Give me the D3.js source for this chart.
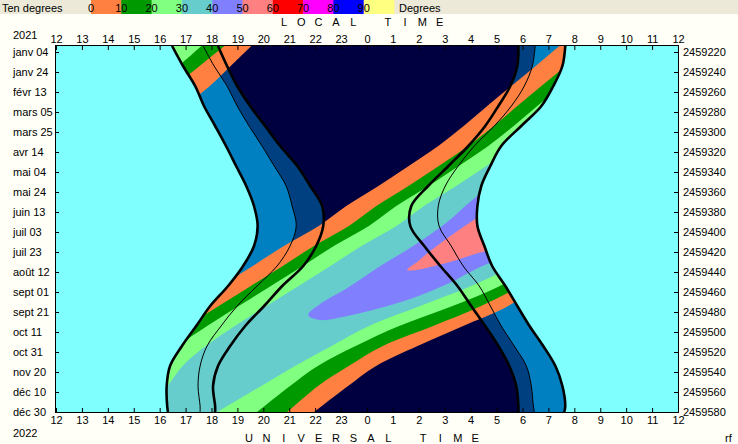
<!DOCTYPE html>
<html><head><meta charset="utf-8">
<script src="https://cdn.jsdelivr.net/npm/d3@7"></script>
<style>
body{margin:0;background:#FFFFF7;}
svg{display:block;}
text{font-family:"Liberation Sans",Arial,sans-serif;font-size:11px;fill:#000;}
</style>
</head><body>
<svg id="c" width="738" height="444"></svg>
<script>
// ---------- DATA ----------
// sample dates (Julian Day) for every curve below
const gridJD = [2459214,2459234,2459254,2459274,2459294,2459314,2459334,2459354,2459374,2459394,2459414,2459434,2459454,2459474,2459494,2459514,2459534,2459554,2459574,2459580];
// sun curves, hours (UT, 12..36 = noon to next noon)
const sunsetOuter   = [16.48,16.90,17.37,17.71,18.14,18.56,18.95,19.34,19.64,19.78,19.64,19.22,18.64,17.95,17.41,16.86,16.40,16.27,16.29,16.32];
const twilightLeft  = [17.68,18.10,18.60,18.99,19.45,19.95,20.42,20.88,21.11,21.27,21.03,20.53,19.76,18.99,18.37,17.83,17.56,17.48,17.56,17.56];
const darkLeft      = [18.25,18.60,18.99,19.49,20.07,20.65,21.31,21.81,22.27,22.31,22.04,21.54,20.73,20.03,19.30,18.72,18.25,18.06,18.14,18.14];
const darkRight     = [29.84,29.80,29.53,29.07,28.56,27.91,27.14,26.36,25.71,25.67,26.21,26.83,27.49,28.02,28.56,29.07,29.49,29.76,29.84,29.84];
const twilightRight = [30.49,30.38,30.07,29.57,28.91,28.14,27.52,27.02,26.75,26.78,27.25,27.71,28.33,28.76,29.18,29.68,30.15,30.34,30.42,30.46];
const sunriseOuter  = [31.65,31.54,31.19,30.73,29.95,29.18,28.76,28.41,28.26,28.26,28.53,28.83,29.34,29.80,30.27,30.80,31.27,31.54,31.65,31.61];
// object: time it climbs above / falls below 0,10,20,30 degrees (hours)
const rise0  = [31.42,30.51,29.57,28.64,27.73,26.75,25.61,24.44,23.20,22.14,20.79,19.59,18.36,17.12,15.90,14.78,13.88,13.11,12.37,12.15];
const rise10 = [32.58,31.67,30.73,29.80,28.89,27.91,26.77,25.60,24.36,23.30,21.95,20.75,19.52,18.28,17.06,15.94,15.04,14.27,13.53,13.31];
const rise20 = [33.35,32.44,31.50,30.57,29.66,28.68,27.54,26.37,25.13,24.07,22.72,21.52,20.29,19.05,17.83,16.71,15.81,15.04,14.30,14.08];
const rise30 = [34.42,33.51,32.57,31.64,30.73,29.75,28.61,27.44,26.20,25.14,23.79,22.59,21.36,20.12,18.90,17.78,16.88,16.30,15.55,15.30];
const set0   = [43.54,42.74,41.94,40.94,39.79,38.64,37.48,36.32,35.16,33.97,32.78,31.61,30.55,29.45,27.71,25.95,24.35,23.27,22.26,21.96];
const set10  = [42.50,41.54,40.58,39.59,38.62,37.64,36.64,35.64,34.61,33.53,32.45,31.20,29.92,28.40,26.55,24.61,23.29,22.11,21.19,20.92];
const set20  = [41.61,40.73,39.77,38.80,37.83,36.86,35.87,34.86,33.84,32.76,31.68,30.44,29.13,27.30,25.24,23.56,22.10,21.03,20.05,19.76];
const set30  = [40.03,39.14,38.26,37.41,36.63,35.86,34.97,34.04,33.07,31.98,30.90,29.63,28.02,26.05,24.08,22.63,21.22,19.92,18.61,18.22];
// outlines [JD, hour] of the 40-50 and 50-60 degree areas
const above40 = [[2459483,21.73],[2459472,22.19],[2459456,23.24],[2459434,24.51],[2459414,25.78],[2459390,27.10],[2459364,28.25],[2459344,29.53],[2459328,31.46],[2459358,32.62],[2459403,31.85],[2459420,30.30],[2459432,28.64],[2459452,27.10],[2459466,25.78],[2459476,24.51],[2459484,23.24],[2459488,22.19]];
const above50 = [[2459438,25.55],[2459429,25.98],[2459419,26.44],[2459402,27.33],[2459386,28.25],[2459374,29.14],[2459368,30.30],[2459383,31.07],[2459408,30.49],[2459416,29.34],[2459420,28.45],[2459429,27.33],[2459435,26.44],[2459438,25.90]];
// axes
const hourTicks = [12,13,14,15,16,17,18,19,20,21,22,23,24,25,26,27,28,29,30,31,32,33,34,35,36];
const jdTicks = [2459220,2459240,2459260,2459280,2459300,2459320,2459340,2459360,2459380,2459400,2459420,2459440,2459460,2459480,2459500,2459520,2459540,2459560,2459580];
const dateLabels = ["janv 04","janv 24","févr 13","mars 05","mars 25","avr 14","mai 04","mai 24","juin 13","juil 03","juil 23","août 12","sept 01","sept 21","oct 11","oct 31","nov 20","déc 10","déc 30"];
// legend
const legendValues = [0,10,20,30,40,50,60,70,80,90];
const legendColors = ["#FF8040","#009900","#80FF80","#66CCCC","#8080FF","#FF8080","#FF0000","#FF00FF","#0000FF","#FFFF80"];

// ---------- DRAW ----------
const svg = d3.select("#c");
svg.append("rect").attr("width",738).attr("height",444).attr("fill","#FFFFF7");

// legend strip
svg.append("rect").attr("width",738).attr("height",14).attr("fill","#ECE9D8");
const lg = d3.scaleLinear().domain([0,100]).range([91,394]);
svg.selectAll("rect.sw").data(legendValues).join("rect").attr("class","sw")
  .attr("x",d=>lg(d)).attr("y",0).attr("width",lg(10)-lg(0)+0.5).attr("height",14)
  .attr("fill",(d,i)=>legendColors[i]);
svg.selectAll("text.lv").data(legendValues).join("text").attr("class","lv")
  .attr("x",d=>lg(d)).attr("y",12).attr("text-anchor","middle").text(d=>d);
svg.append("text").attr("x",2).attr("y",12).text("Ten degrees");
svg.append("text").attr("x",399).attr("y",12).text("Degrees");

const x = d3.scaleLinear().domain([12,36]).range([56,678]);
const y = d3.scaleLinear().domain([2459214,2459580]).range([46,412]);
const idx = d3.range(gridJD.length);

const defs = svg.append("defs");
defs.append("clipPath").attr("id","plotClip").append("rect").attr("x",56).attr("y",46).attr("width",622).attr("height",366);

const areaBetween = (a,b,off=0) => d3.area().curve(d3.curveCatmullRom)
  .y(i=>y(gridJD[i])).x0(i=>x(a[i]+off)).x1(i=>x(b[i]+off))(idx);
const curveOf = (a) => d3.line().curve(d3.curveCatmullRom)
  .y(i=>y(gridJD[i])).x(i=>x(a[i]))(idx);

defs.append("clipPath").attr("id","nightClip").append("path").attr("d",areaBetween(sunsetOuter,sunriseOuter));

const plot = svg.append("g").attr("clip-path","url(#plotClip)");
plot.append("rect").attr("x",56).attr("y",46).attr("width",622).attr("height",366).attr("fill","#80FFFF");
plot.append("path").attr("d",areaBetween(sunsetOuter,sunriseOuter)).attr("fill","#0080C0");
plot.append("path").attr("d",areaBetween(twilightLeft,twilightRight)).attr("fill","#004080");
plot.append("path").attr("d",areaBetween(darkLeft,darkRight)).attr("fill","#000040");

const obj = plot.append("g").attr("clip-path","url(#nightClip)");
const bands = [
  {lo:rise0, hi:set0, c:legendColors[0]},
  {lo:rise10,hi:set10,c:legendColors[1]},
  {lo:rise20,hi:set20,c:legendColors[2]},
  {lo:rise30,hi:set30,c:legendColors[3]}
];
bands.forEach(b=>{
  [-24,0].forEach(off=>{
    obj.append("path").attr("d",areaBetween(b.lo,b.hi,off)).attr("fill",b.c);
  });
});
const closed = d3.line().curve(d3.curveCatmullRomClosed).x(d=>x(d[1])).y(d=>y(d[0]));
obj.append("path").attr("d",closed(above40)).attr("fill",legendColors[4]);
obj.append("path").attr("d",closed(above50)).attr("fill",legendColors[5]);

// twilight boundary lines
[[sunsetOuter,2.6],[twilightLeft,1],[darkLeft,2.6],[darkRight,2.6],[twilightRight,1],[sunriseOuter,2.6]].forEach(([a,w])=>{
  plot.append("path").attr("d",curveOf(a)).attr("fill","none").attr("stroke","#000").attr("stroke-width",w);
});

// frame
svg.append("rect").attr("x",55.5).attr("y",45.5).attr("width",623).attr("height",367)
  .attr("fill","none").attr("stroke","#000");

// axes
const styleAxis = g => { g.select(".domain").remove(); g.attr("font-size",11).attr("font-family","Liberation Sans, Arial, sans-serif"); g.selectAll("line").attr("stroke","#000"); };
svg.append("g").attr("transform","translate(0,46)")
  .call(d3.axisTop(x).tickValues(hourTicks).tickFormat(h=>h%24).tickSize(-4).tickPadding(3)).call(styleAxis);
svg.append("g").attr("transform","translate(0,412)")
  .call(d3.axisBottom(x).tickValues(hourTicks).tickFormat(h=>h%24).tickSize(-4).tickPadding(4)).call(styleAxis);
svg.append("g").attr("transform","translate(55,0)")
  .call(d3.axisLeft(y).tickValues(jdTicks).tickFormat((d,i)=>dateLabels[i]).tickSize(-4)).call(styleAxis)
  .call(g=>g.selectAll("text").attr("x",13-55).attr("text-anchor","start"));
svg.append("g").attr("transform","translate(678,0)")
  .call(d3.axisRight(y).tickValues(jdTicks).tickFormat(d3.format("d")).tickSize(-4).tickPadding(5)).call(styleAxis);

// titles
svg.selectAll("text.lt").data("LOCAL TIME".split("")).join("text").attr("class","lt")
  .attr("x",(d,i)=>284+i*17.3).attr("y",25.5).attr("text-anchor","middle").text(d=>d);
svg.selectAll("text.ut").data("UNIVERSAL TIME".split("")).join("text").attr("class","ut")
  .attr("x",(d,i)=>249+i*17.4).attr("y",441.5).attr("text-anchor","middle").text(d=>d);
svg.append("text").attr("x",13).attr("y",38.5).text("2021");
svg.append("text").attr("x",13).attr("y",437).text("2022");
svg.append("text").attr("x",725).attr("y",441.5).text("rf");
</script>
</body></html>
